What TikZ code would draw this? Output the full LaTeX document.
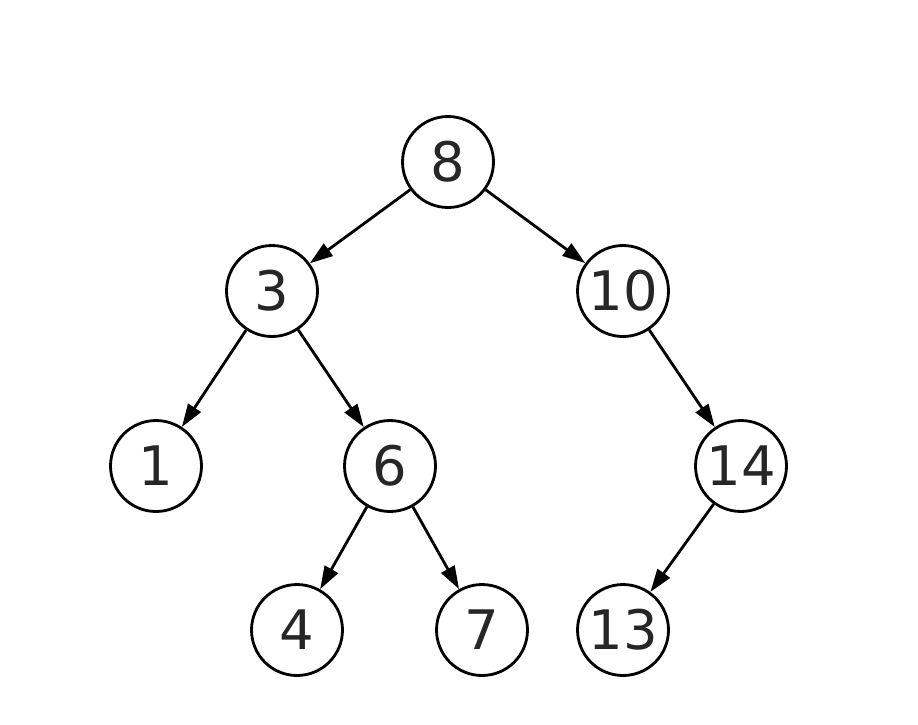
\documentclass[tikz,border=0pt]{standalone}
\usepackage{fontspec}
\setmainfont{DejaVu Sans}
\usepackage{tikz}
\usetikzlibrary{arrows.meta}

\begin{document}
\begin{tikzpicture} [x=0.02cm, y=-0.02cm, line width=1.6pt,
    main/.style = {draw, circle, minimum size=1.82cm, inner sep=0pt, text=black!85, font=\fontsize{31}{36}\selectfont},
    >={Triangle[length=0.46cm, width=0.3cm]}]
    \useasboundingbox (0,0) rectangle (918,724);

    \node[main] (8) at (448,162) {8};
    \node[main] (3) at (272,291) {3};
    \node[main] (10) at (623,291) {10};
    \node[main] (1) at (156,466) {1};
    \node[main] (6) at (390,466) {6};
    \node[main] (14) at (741,466) {14};
    \node[main] (4) at (297,630) {4};
    \node[main] (7) at (482,630) {7};
    \node[main] (13) at (623,630) {13};

    \draw[->] (8) -- (3);
    \draw[->] (8) -- (10);
    \draw[->] (3) -- (1);
    \draw[->] (3) -- (6);
    \draw[->] (10) -- (14);
    \draw[->] (6) -- (4);
    \draw[->] (6) -- (7);
    \draw[->] (14) -- (13);

  \end{tikzpicture}
\end{document}
